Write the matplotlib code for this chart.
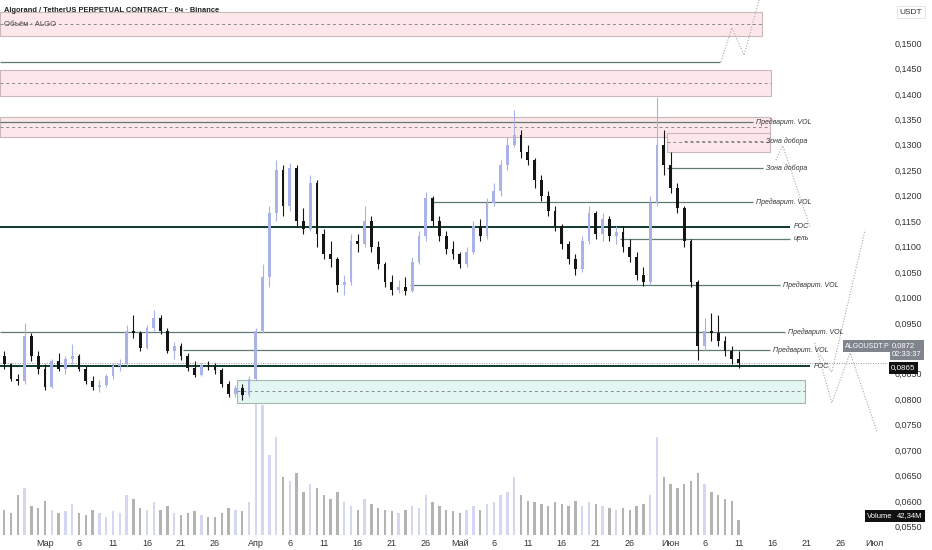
import matplotlib
matplotlib.use('Agg')
import matplotlib.pyplot as plt
from matplotlib.patches import Rectangle
import numpy as np

plt.rcParams['font.family'] = ['Liberation Sans', 'DejaVu Sans']

# one candle per day, day 0 = 1 March
days = list(range(-6, 103))
opens = [0.0885, 0.0870, 0.0840, 0.0835, 0.0925, 0.0885,
         0.0860, 0.0825, 0.0875, 0.0860, 0.0880, 0.0885, 0.0860, 0.0835, 0.0825, 0.0828,
         0.0845, 0.0865, 0.0870, 0.0935, 0.0930, 0.0900, 0.0940, 0.0960, 0.0935, 0.0895,
         0.0905, 0.0885, 0.0862, 0.0848, 0.0868, 0.0865, 0.0858, 0.0830, 0.0810, 0.0822,
         0.0808, 0.0840, 0.0935, 0.1040, 0.1165, 0.1250, 0.1180, 0.1255, 0.1150, 0.1135,
         0.1225, 0.1125, 0.1085, 0.1075, 0.1025, 0.1030, 0.1110, 0.1105, 0.1150, 0.1100,
         0.1065, 0.1030, 0.1015, 0.1020, 0.1012, 0.1070, 0.1120, 0.1195, 0.1150, 0.1120,
         0.1095, 0.1085, 0.1065, 0.1090, 0.1140, 0.1120, 0.1185, 0.1210, 0.1260, 0.1300,
         0.1320, 0.1285, 0.1270, 0.1230, 0.1200, 0.1170, 0.1140, 0.1105, 0.1075, 0.1055,
         0.1110, 0.1165, 0.1125, 0.1155, 0.1120, 0.1128, 0.1100, 0.1080, 0.1045, 0.1030,
         0.1185, 0.1300, 0.1260, 0.1215, 0.1175, 0.1110, 0.1030, 0.0905, 0.0935, 0.0930,
         0.0915, 0.0895, 0.0880]
highs = [0.0895, 0.0872, 0.0850, 0.0950, 0.0930, 0.0895,
         0.0870, 0.0880, 0.0890, 0.0885, 0.0908, 0.0888, 0.0865, 0.0845, 0.0838, 0.0850,
         0.0872, 0.0880, 0.0945, 0.0966, 0.0935, 0.0945, 0.0975, 0.0965, 0.0940, 0.0912,
         0.0910, 0.0890, 0.0875, 0.0872, 0.0875, 0.0872, 0.0862, 0.0835, 0.0828, 0.0830,
         0.0845, 0.0940, 0.1065, 0.1180, 0.1270, 0.1260, 0.1265, 0.1260, 0.1175, 0.1240,
         0.1230, 0.1135, 0.1110, 0.1080, 0.1045, 0.1125, 0.1125, 0.1180, 0.1160, 0.1110,
         0.1070, 0.1045, 0.1035, 0.1040, 0.1080, 0.1130, 0.1207, 0.1200, 0.1160, 0.1130,
         0.1110, 0.1090, 0.1100, 0.1150, 0.1155, 0.1195, 0.1225, 0.1270, 0.1315, 0.1368,
         0.1330, 0.1300, 0.1275, 0.1240, 0.1210, 0.1180, 0.1145, 0.1110, 0.1085, 0.1120,
         0.1180, 0.1170, 0.1165, 0.1160, 0.1140, 0.1140, 0.1115, 0.1090, 0.1060, 0.1200,
         0.1394, 0.1330, 0.1285, 0.1225, 0.1180, 0.1115, 0.1035, 0.0960, 0.0970, 0.0965,
         0.0925, 0.0905, 0.0895]
lows = [0.0860, 0.0835, 0.0828, 0.0830, 0.0875, 0.0850,
        0.0818, 0.0822, 0.0855, 0.0850, 0.0870, 0.0855, 0.0830, 0.0818, 0.0815, 0.0825,
        0.0840, 0.0855, 0.0865, 0.0920, 0.0895, 0.0898, 0.0935, 0.0928, 0.0890, 0.0880,
        0.0878, 0.0855, 0.0843, 0.0845, 0.0858, 0.0850, 0.0825, 0.0805, 0.0805, 0.0798,
        0.0805, 0.0835, 0.0930, 0.1020, 0.1150, 0.1160, 0.1170, 0.1140, 0.1125, 0.1130,
        0.1100, 0.1075, 0.1060, 0.1010, 0.1005, 0.1025, 0.1090, 0.1100, 0.1090, 0.1055,
        0.1020, 0.1005, 0.1008, 0.1005, 0.1010, 0.1065, 0.1110, 0.1140, 0.1110, 0.1085,
        0.1075, 0.1058, 0.1060, 0.1085, 0.1110, 0.1115, 0.1180, 0.1200, 0.1250, 0.1295,
        0.1275, 0.1260, 0.1215, 0.1190, 0.1160, 0.1130, 0.1095, 0.1065, 0.1045, 0.1050,
        0.1105, 0.1115, 0.1110, 0.1110, 0.1105, 0.1090, 0.1070, 0.1035, 0.1022, 0.1025,
        0.1180, 0.1240, 0.1205, 0.1165, 0.1100, 0.1020, 0.0877, 0.0895, 0.0915, 0.0905,
        0.0885, 0.0870, 0.0862]
closes = [0.0870, 0.0840, 0.0835, 0.0925, 0.0885, 0.0860,
          0.0825, 0.0875, 0.0860, 0.0880, 0.0885, 0.0860, 0.0835, 0.0825, 0.0828, 0.0845,
          0.0865, 0.0870, 0.0935, 0.0930, 0.0900, 0.0940, 0.0960, 0.0935, 0.0895, 0.0905,
          0.0885, 0.0862, 0.0848, 0.0868, 0.0865, 0.0858, 0.0830, 0.0810, 0.0822, 0.0808,
          0.0840, 0.0935, 0.1040, 0.1165, 0.1250, 0.1180, 0.1255, 0.1150, 0.1135, 0.1225,
          0.1125, 0.1085, 0.1075, 0.1025, 0.1030, 0.1110, 0.1105, 0.1150, 0.1100, 0.1065,
          0.1030, 0.1015, 0.1020, 0.1012, 0.1070, 0.1120, 0.1195, 0.1150, 0.1120, 0.1095,
          0.1085, 0.1065, 0.1090, 0.1140, 0.1120, 0.1185, 0.1210, 0.1260, 0.1300, 0.1320,
          0.1285, 0.1270, 0.1230, 0.1200, 0.1170, 0.1140, 0.1105, 0.1075, 0.1055, 0.1110,
          0.1165, 0.1125, 0.1155, 0.1120, 0.1128, 0.1100, 0.1080, 0.1045, 0.1030, 0.1185,
          0.1300, 0.1260, 0.1215, 0.1175, 0.1110, 0.1030, 0.0905, 0.0935, 0.0930, 0.0915,
          0.0895, 0.0880, 0.0872]
volumes = [70, 60, 110, 130, 80, 75,
           95, 70, 60, 65, 85, 60, 55, 70, 60, 50,
           65, 60, 110, 100, 75, 70, 90, 70, 80, 60,
           55, 60, 65, 55, 50, 50, 60, 75, 70, 65,
           90, 420, 360, 220, 270, 160, 150, 170, 120, 140,
           130, 110, 100, 120, 90, 80, 70, 100, 85, 75,
           70, 65, 60, 70, 80, 75, 110, 90, 80, 70,
           65, 60, 70, 80, 70, 85, 90, 110, 120, 160,
           110, 95, 90, 85, 80, 90, 85, 80, 95, 80,
           90, 85, 80, 75, 70, 75, 70, 80, 85, 110,
           270, 160, 140, 130, 140, 150, 170, 140, 120, 110,
           100, 95, 42.34]

tick_days = [0, 5, 10, 15, 20, 25, 31, 36, 41, 46, 51, 56, 61, 66, 71, 76, 81, 86,
             92, 97, 102, 107, 112, 117, 122]
tick_labels = ['Мар', '6', '11', '16', '21', '26', 'Апр', '6', '11', '16', '21', '26',
               'Май', '6', '11', '16', '21', '26', 'Июн', '6', '11', '16', '21', '26', 'Июл']

# zones: (low, high, start day, end day, kind)
zones = [(0.1514, 0.1561, -6.6, 105.4, 'red'),
         (0.1396, 0.1447, -6.6, 106.8, 'red'),
         (0.1315, 0.1355, -6.6, 106.6, 'red'),
         (0.1286, 0.1323, 91.5, 106.6, 'red'),
         (0.0793, 0.0838, 28.2, 111.8, 'green')]

# levels: (price, start day, end day, label, is_poc)
levels = [(0.1463, -6.6, 99.3, '', False),
          (0.1345, -6.6, 104.1, 'Предварит. VOL', False),
          (0.1307, 94.0, 105.6, 'Зона добора', None),
          (0.1254, 91.5, 105.6, 'Зона добора', False),
          (0.1188, 57.1, 104.1, 'Предварит. VOL', False),
          (0.1139, -6.6, 109.6, 'POC', True),
          (0.1115, 84.6, 109.6, 'цель', False),
          (0.1025, 53.7, 108.1, 'Предварит. VOL', False),
          (0.0932, -6.6, 108.8, 'Предварит. VOL', False),
          (0.0897, 20.3, 106.6, 'Предварит. VOL', False),
          (0.0865, -6.6, 112.5, 'POC', True)]

last_price = 0.0872

# projected paths (day, price)
paths = [([99.4, 101.0, 102.8, 105.0], [0.1463, 0.1530, 0.1476, 0.1585]),
         ([107.5, 108.5, 112.5], [0.1270, 0.1298, 0.1138]),
         ([113.2, 115.7, 118.4, 122.4], [0.0911, 0.0793, 0.0891, 0.0734]),
         ([114.0, 115.7, 120.6], [0.0887, 0.0853, 0.1133])]

W, H = 932, 550
fig = plt.figure(figsize=(W / 100, H / 100), dpi=100)
fig.patch.set_facecolor('white')
ax = fig.add_axes([0, 15 / H, 888 / W, 535 / H])
vax = ax.twinx()
ax.set_zorder(2)
ax.patch.set_visible(False)
vax.set_zorder(1)

up_col = '#a9b3e9'
dn_col = '#151515'

# volume
vcols = ['#c9cdef' if c >= o else '#a0a0a0' for o, c in zip(opens, closes)]
vax.bar(days, volumes, width=0.35, color=vcols, alpha=0.8)
vax.set_ylim(0, max(volumes) * 535 / 152)
vax.set_yticks([])

# zones
for lo, hi, x0, x1, kind in zones:
    fc = '#fde7ea' if kind == 'red' else '#e3f6f1'
    ec = '#c9b8ba' if kind == 'red' else '#9fbab1'
    ax.add_patch(Rectangle((x0, lo), x1 - x0, hi - lo, facecolor=fc, edgecolor=ec,
                           lw=0.8, zorder=0))
    ax.hlines((lo + hi) / 2, x0, x1, colors='#8a8a8a', lw=0.7, linestyles=(0, (3, 3)), zorder=1)

# levels
for p, x0, x1, lab, poc in levels:
    if poc is None:
        ax.hlines(p, x0, x1, colors='#8a8a8a', lw=0.7, linestyles=(0, (3, 3)), zorder=1)
    elif poc:
        ax.hlines(p, x0, x1, colors='#0d3b2c', lw=1.4, zorder=2)
    else:
        ax.hlines(p, x0, x1, colors='#5f7a70', lw=0.9, zorder=2)
    if lab:
        ax.text(x1 + 0.5, p, lab, fontsize=5, style='italic', color='#333333',
                va='center', ha='left', zorder=4)

ax.axhline(last_price, color='#9a9a9a', lw=0.7, ls=(0, (1, 1.5)), zorder=1)

for xs, ys in paths:
    ax.plot(xs, ys, color='#a8a8a8', lw=0.8, ls=(0, (1, 1.5)), zorder=1)

# candles
for d, o, h, l, c in zip(days, opens, highs, lows, closes):
    col = up_col if c >= o else dn_col
    ax.vlines(d, l, h, colors=col, lw=0.8, zorder=3)
    ax.bar(d, max(abs(c - o), 0.0002), bottom=min(o, c), width=0.42, color=col, zorder=3)

ax.set_xlim(-6.62, 123.97)
ax.set_ylim(0.05332, 0.15845)
yt = np.arange(0.055, 0.1501, 0.005)
ax.set_yticks(yt)
# 0,0900 sits under the price tags, as in the reference
ax.set_yticklabels(['' if abs(v - 0.09) < 1e-6 else f'{v:.4f}'.replace('.', ',') for v in yt])
ax.yaxis.tick_right()
ax.tick_params(axis='y', length=0, pad=5, labelsize=6.5, colors='#333333')
ax.set_xticks(tick_days)
ax.set_xticklabels(tick_labels)
ax.tick_params(axis='x', length=0, pad=3, labelsize=6.5, colors='#333333')
for a in (ax, vax):
    for s in a.spines.values():
        s.set_visible(False)

# header
fig.text(4 / W, 1 - 11 / H, 'Algorand / TetherUS PERPETUAL CONTRACT · 6ч · Binance',
         fontsize=5.4, fontweight='bold', color='#222222', va='center')
fig.text(4 / W, 1 - 25 / H, 'Объём · ALGO', fontsize=5.5, color='#444444', va='center')
fig.text(911 / W, 1 - 12 / H, 'USDT', fontsize=6, color='#333333', va='center', ha='center',
         bbox=dict(boxstyle='square,pad=0.35', fc='white', ec='#e0e0e0', lw=0.6))

# price tags
fig.text(867 / W, 1 - 346 / H, 'ALGOUSDT.P', fontsize=5, color='white', va='center',
         ha='center', bbox=dict(boxstyle='square,pad=0.3', fc='#80848c', ec='none'))
fig.text(892 / W, 1 - 350 / H, '0,0872\n02:33:37', fontsize=5.5, color='white', va='center',
         ha='left', linespacing=1.2,
         bbox=dict(boxstyle='square,pad=0.3', fc='#80848c', ec='none'))
fig.text(891 / W, 1 - 368 / H, '0,0865', fontsize=5.8, color='white', va='center', ha='left',
         bbox=dict(boxstyle='square,pad=0.25', fc='#111111', ec='none'))
fig.text(880 / W, 1 - 516 / H, 'Volume', fontsize=5.5, color='white', va='center',
         ha='center', bbox=dict(boxstyle='square,pad=0.3', fc='#111111', ec='none'))
fig.text(910 / W, 1 - 516 / H, '42,34M', fontsize=5.5, color='white', va='center',
         ha='center', bbox=dict(boxstyle='square,pad=0.3', fc='#111111', ec='none'))

fig.savefig('out.png', dpi=100)
